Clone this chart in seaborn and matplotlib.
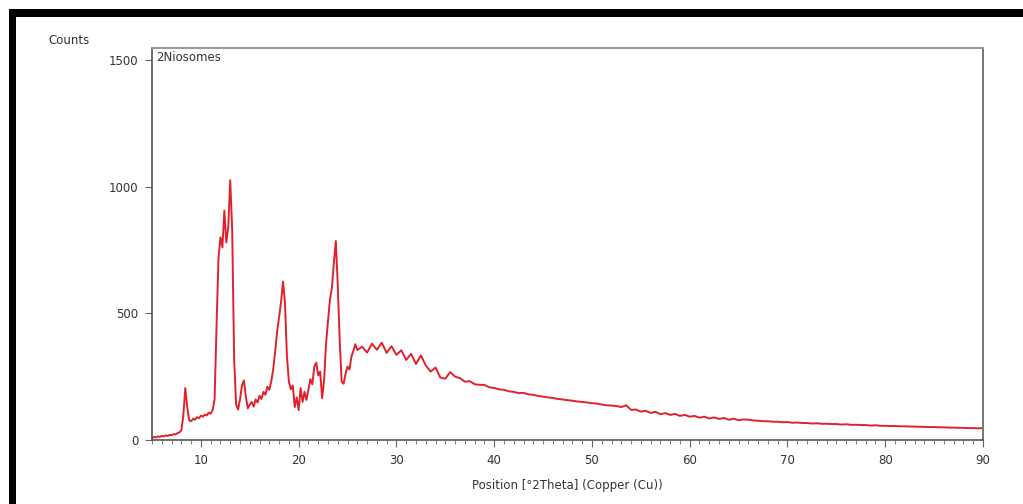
import numpy as np
import pandas as pd
import matplotlib
matplotlib.use("Agg")
import matplotlib.pyplot as plt
from matplotlib.patches import Rectangle
from matplotlib.ticker import MultipleLocator
import seaborn as sns

# Diffraction scan of the niosome sample (Cu K-alpha)
# fine steps through the crystalline peaks, coarser across the amorphous tail
theta_fine = np.round(np.arange(5.0, 26.01, 0.2), 1)
counts_fine = [
    8, 12, 10, 14, 12, 16, 14, 18, 16, 20,
    19, 23, 22, 27, 30, 38, 95, 205, 130, 78,
    74, 84, 80, 90, 86, 96, 92, 100, 97, 108,
    104, 118, 160, 450, 720, 800, 760, 905, 780, 840,
    1025, 830, 320, 140, 120, 160, 215, 235, 170, 125,
    140, 150, 132, 160, 148, 175, 162, 190, 178, 210,
    198, 232, 280, 350, 430, 485, 545, 625, 540, 330,
    230, 200, 215, 130, 168, 118, 205, 150, 190, 158,
    200, 240, 220, 290, 305, 255, 270, 165, 235, 380,
    470, 555, 600, 700, 785, 610, 390, 230, 222, 262,
    290, 278, 330, 352, 378, 355,
]

theta_tail = np.round(np.arange(26.5, 90.01, 0.5), 1)
counts_tail = [
    368, 345, 380, 356, 384, 344, 370, 336, 354, 316,
    340, 300, 334, 294, 270, 286, 246, 242, 268, 250,
    244, 230, 232, 220, 218, 217, 208, 205, 200, 198,
    192, 190, 185, 186, 180, 178, 174, 171, 168, 166,
    162, 160, 157, 155, 152, 150, 148, 145, 144, 140,
    137, 136, 134, 130, 137, 119, 120, 112, 115, 107,
    111, 102, 106, 99, 103, 95, 99, 92, 95, 88,
    92, 85, 89, 83, 87, 80, 84, 78, 81, 80,
    77, 76, 74, 74, 72, 72, 70, 71, 68, 69,
    67, 67, 65, 66, 64, 64, 63, 63, 61, 62,
    60, 60, 59, 59, 57, 58, 56, 56, 55, 55,
    54, 54, 53, 53, 52, 52, 51, 51, 50, 50,
    49, 49, 48, 48, 47, 47, 46, 47,
]

assert len(theta_fine) == len(counts_fine)
assert len(theta_tail) == len(counts_tail)

scan = pd.DataFrame({
    "theta": np.concatenate([theta_fine, theta_tail]),
    "counts": counts_fine + counts_tail,
})

x_ticks = [10, 20, 30, 40, 50, 60, 70, 80, 90]
y_ticks = [0, 500, 1000, 1500]

sns.set_theme(style="white")
plt.rcParams["font.family"] = ["DejaVu Sans"]

fig = plt.figure(figsize=(10.23, 5.04), dpi=100)
fig.patch.set_facecolor("white")
ax = fig.add_axes([0.1486, 0.127, 0.8123, 0.7778])

sns.lineplot(data=scan, x="theta", y="counts", ax=ax, color="#e0222d",
             linewidth=1.4, sort=True, estimator=None)

ax.set_xlim(5, 90)
ax.set_ylim(0, 1547)
ax.set_xticks(x_ticks)
ax.set_yticks(y_ticks)
ax.xaxis.set_minor_locator(MultipleLocator(1))
ax.tick_params(axis="both", which="major", direction="out", length=5,
               width=0.8, color="#666666", labelsize=8.5, labelcolor="#333333",
               pad=5)
ax.tick_params(axis="x", which="minor", direction="out", length=3,
               width=0.7, color="#777777", bottom=True)
ax.tick_params(axis="x", which="major", bottom=True)
ax.tick_params(axis="y", which="major", left=True)

for side in ("left", "bottom"):
    ax.spines[side].set_color("#555555")
    ax.spines[side].set_linewidth(1.2)
for side in ("top", "right"):
    ax.spines[side].set_color("#999999")
    ax.spines[side].set_linewidth(1.4)
ax.spines["right"].set_color("#777777")

ax.set_xlabel("Position [°2Theta] (Copper (Cu))", fontsize=8.5,
              color="#333333", labelpad=9)
ax.set_ylabel("")
ax.text(0.005, 0.993, "2Niosomes", transform=ax.transAxes, fontsize=8.5,
        color="#333333", ha="left", va="top")
fig.text(48 / 1023, 1 - 41 / 504, "Counts", fontsize=8.5, color="#333333",
         ha="left", va="center")

# heavy black frame along the top and left edges of the page
fig.patches.append(Rectangle((9 / 1023, 1 - 17 / 504), 1 - 9 / 1023, 8 / 504,
                             transform=fig.transFigure, facecolor="black",
                             edgecolor="none", zorder=10))
fig.patches.append(Rectangle((9 / 1023, 0), 7 / 1023, 1 - 9 / 504,
                             transform=fig.transFigure, facecolor="black",
                             edgecolor="none", zorder=10))

fig.savefig("out.png", dpi=100, facecolor="white")
